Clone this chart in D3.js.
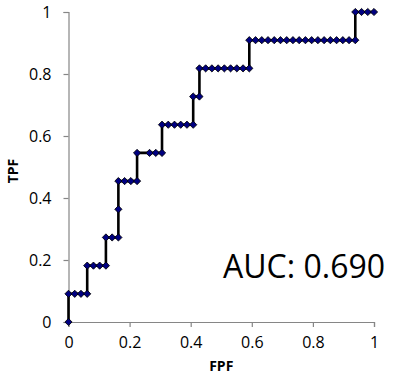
<!DOCTYPE html>
<html>
<head>
<meta charset="utf-8">
<script src="https://cdn.jsdelivr.net/npm/d3@7"></script>
<style>
  body { margin: 0; background: #fff; }
  text { font-family: "Open Sans", sans-serif; }
</style>
</head>
<body>
<div id="roc"></div>
<script>
// ROC points as counts: false positives (of 49 negatives) and true positives (of 11 positives)
const totalNeg = 49;
const totalPos = 11;
const fpCounts = [0, 0, 1, 2, 3, 3, 4, 5, 6, 6, 7, 8, 8, 8, 9, 10, 11, 11, 13, 14, 15,
  15, 16, 17, 18, 19, 20, 20, 21, 21, 22, 23, 24, 25, 26, 27, 28, 29,
  29, 30, 31, 32, 33, 34, 35, 36, 37, 38, 39, 40, 41, 42, 43, 44, 45, 46,
  46, 47, 48, 49];
const tpCounts = [0, 1, 1, 1, 1, 2, 2, 2, 2, 3, 3, 3, 4, 5, 5, 5, 5, 6, 6, 6, 6,
  7, 7, 7, 7, 7, 7, 8, 8, 9, 9, 9, 9, 9, 9, 9, 9, 9,
  10, 10, 10, 10, 10, 10, 10, 10, 10, 10, 10, 10, 10, 10, 10, 10, 10, 10,
  11, 11, 11, 11];
const xTicks = [0, 0.2, 0.4, 0.6, 0.8, 1];
const yTicks = [0, 0.2, 0.4, 0.6, 0.8, 1];
const xTitle = 'FPF';
const yTitle = 'TPF';
const aucLabel = 'AUC: 0.690';

function drawRoc() {
    const width = 400;
    const height = 383;
    const margin = { top: 12, right: 26, bottom: 61, left: 68.5 };

    const svg = d3.select('#roc')
        .append('svg')
        .attr('width', width)
        .attr('height', height);

    const points = fpCounts.map((fp, i) => ({ fpf: fp / totalNeg, tpf: tpCounts[i] / totalPos }));

    const x = d3.scaleLinear().domain([0, 1]).range([margin.left, width - margin.right]);
    const y = d3.scaleLinear().domain([0, 1]).range([height - margin.bottom, margin.top]);

    // Axes
    const xAxis = svg.append('g')
        .attr('transform', `translate(0, ${y(0)})`)
        .call(d3.axisBottom(x).tickValues(xTicks).tickSize(5).tickPadding(10).tickFormat(d3.format('')));
    const yAxis = svg.append('g')
        .attr('transform', `translate(${x(0)}, 0)`)
        .call(d3.axisLeft(y).tickValues(yTicks).tickSize(5).tickPadding(12).tickFormat(d3.format('')));

    [xAxis, yAxis].forEach(g => {
        g.select('.domain').attr('stroke', '#868686').attr('stroke-width', 1.2);
        g.selectAll('.tick line').attr('stroke', '#868686').attr('stroke-width', 1.2);
        g.selectAll('text').attr('fill', '#000').style('font-size', '16px');
    });

    // Step line
    const line = d3.line().x(d => x(d.fpf)).y(d => y(d.tpf));
    svg.append('path')
        .datum(points)
        .attr('fill', 'none')
        .attr('stroke', '#000')
        .attr('stroke-width', 2.6)
        .attr('d', line);

    // Diamond markers
    const diamond = d3.symbol().type(d3.symbolSquare).size(26);
    svg.selectAll('.marker')
        .data(points)
        .enter()
        .append('path')
        .attr('class', 'marker')
        .attr('d', diamond)
        .attr('transform', d => `translate(${x(d.fpf)}, ${y(d.tpf)}) rotate(45)`)
        .attr('fill', '#000080')
        .attr('stroke', '#000')
        .attr('stroke-width', 0.8);

    // Axis titles
    svg.append('text')
        .attr('x', (x(0) + x(1)) / 2)
        .attr('y', 371)
        .attr('text-anchor', 'middle')
        .style('font-size', '14px')
        .style('font-weight', 'bold')
        .text(xTitle);

    svg.append('text')
        .attr('transform', `translate(18, 171) rotate(-90)`)
        .attr('text-anchor', 'middle')
        .style('font-size', '14px')
        .style('font-weight', 'bold')
        .text(yTitle);

    // AUC annotation
    svg.append('text')
        .attr('x', 223)
        .attr('y', 278)
        .style('font-size', '32px')
        .attr('fill', '#000')
        .text(aucLabel);
}

document.addEventListener('DOMContentLoaded', drawRoc);
</script>
</body>
</html>
